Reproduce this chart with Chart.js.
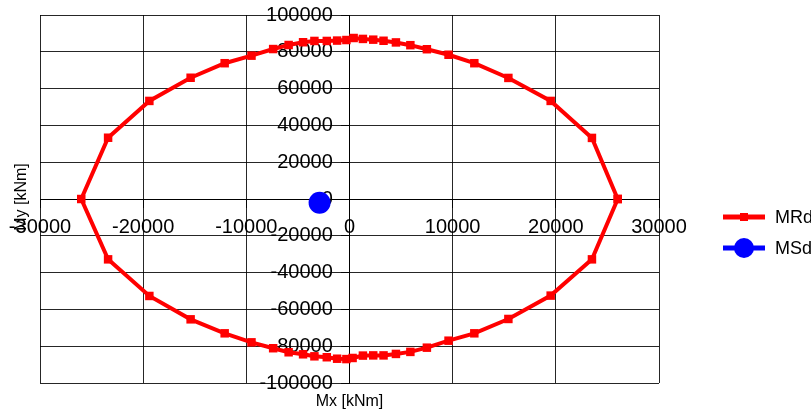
<!DOCTYPE html>
<html>
<head>
<meta charset="utf-8">
<script src="https://cdn.jsdelivr.net/npm/chart.js@4.4.1/dist/chart.umd.min.js"></script>
<style>
  html, body { margin: 0; padding: 0; background: #fff; }
  #wrap { width: 811px; height: 412px; }
</style>
</head>
<body>
<div id="wrap"><canvas id="chart" width="811" height="412"></canvas></div>
<script>
// MRd interaction curve, going round from (+Mx, 0) over the top and back
const mrdX = [26000, 23500, 19500, 15400, 12100, 9600, 7500, 5900, 4500, 3300, 2300, 1300, 400,
  -300, -1200, -2200, -3400, -4500, -5900, -7400, -9500, -12100, -15400, -19400, -23400, -26000,
  -23400, -19400, -15400, -12100, -9500, -7400, -5900, -4500, -3400, -2200, -1200, -300,
  300, 1300, 2300, 3300, 4500, 5900, 7500, 9600, 12100, 15400, 19500, 23500, 26000];
const mrdY = [0, 33200, 53300, 65800, 73800, 78400, 81400, 83600, 85100, 86000, 86600, 87000, 87500,
  86400, 86100, 85900, 85900, 85200, 83700, 81500, 77900, 73800, 65900, 53300, 33300, 0,
  -32800, -52700, -65400, -73000, -77900, -81100, -83300, -84400, -85500, -86000, -86800, -87000,
  -86400, -85100, -85000, -85000, -84200, -83100, -80800, -77000, -73000, -65200, -52500, -32800, 0];

// MSd design point
const msdX = [-2900];
const msdY = [-2000];

const seriesNames = ["MRd", "MSd"];
const xTitle = "Mx [kNm]";
const yTitle = "My [kNm]";

const font = "'Liberation Sans', Arial, sans-serif";

function toPoints(xs, ys) {
  return xs.map((x, i) => ({ x: x, y: ys[i] }));
}

// axis titles and the line+marker legend
const extras = {
  id: "extras",
  afterDraw(chart) {
    const ctx = chart.ctx;
    const area = chart.chartArea;
    ctx.save();
    ctx.fillStyle = "#000";
    ctx.font = "16px " + font;
    ctx.textAlign = "center";
    ctx.textBaseline = "middle";
    ctx.fillText(xTitle, (area.left + area.right) / 2, 402);
    ctx.translate(22, 197);
    ctx.rotate(-Math.PI / 2);
    ctx.fillText(yTitle, 0, 0);
    ctx.restore();

    chart.data.datasets.forEach((ds, i) => {
      const y = 217 + i * 31;
      ctx.save();
      ctx.strokeStyle = ds.borderColor;
      ctx.lineWidth = 5;
      ctx.beginPath();
      ctx.moveTo(723, y);
      ctx.lineTo(765, y);
      ctx.stroke();
      ctx.fillStyle = ds.pointBackgroundColor;
      ctx.beginPath();
      if (ds.pointStyle === "rect") {
        ctx.rect(740, y - 4, 8, 8);
      } else {
        ctx.arc(744, y, 10, 0, Math.PI * 2);
      }
      ctx.fill();
      ctx.fillStyle = "#000";
      ctx.font = "18px " + font;
      ctx.textAlign = "left";
      ctx.textBaseline = "middle";
      ctx.fillText(ds.label, 775, y + 1);
      ctx.restore();
    });
  }
};

const gridStyle = { color: "rgba(0,0,0,0.85)", lineWidth: 1, tickLength: 8, drawTicks: true };

new Chart(document.getElementById("chart"), {
  type: "scatter",
  data: {
    datasets: [
      {
        label: seriesNames[0],
        data: toPoints(mrdX, mrdY),
        showLine: true,
        borderColor: "#ff0000",
        backgroundColor: "#ff0000",
        pointBackgroundColor: "#ff0000",
        pointBorderWidth: 0,
        borderWidth: 4,
        pointStyle: "rect",
        pointRadius: 6,
        tension: 0
      },
      {
        label: seriesNames[1],
        data: toPoints(msdX, msdY),
        borderColor: "#0000ff",
        backgroundColor: "#0000ff",
        pointBackgroundColor: "#0000ff",
        pointBorderWidth: 0,
        pointStyle: "circle",
        pointRadius: 11
      }
    ]
  },
  options: {
    responsive: false,
    animation: false,
    layout: { padding: { left: 40, right: 152, top: 15, bottom: 29 } },
    plugins: {
      legend: { display: false },
      tooltip: { enabled: false }
    },
    scales: {
      x: {
        type: "linear",
        position: { y: 0 },
        min: -30000,
        max: 30000,
        grid: gridStyle,
        border: { color: "#000", width: 1 },
        ticks: {
          stepSize: 10000,
          autoSkip: false,
          maxRotation: 0,
          padding: 8,
          color: "#000",
          font: { family: font, size: 20 },
          callback: (v) => String(v)
        }
      },
      y: {
        type: "linear",
        position: { x: 0 },
        min: -100000,
        max: 100000,
        grid: gridStyle,
        border: { color: "#000", width: 1 },
        ticks: {
          stepSize: 20000,
          autoSkip: false,
          padding: 8,
          color: "#000",
          font: { family: font, size: 20, lineHeight: 0.7 },
          // labels of a centred axis sit flush on it, the spaces keep a gap
          callback: (v) => String(v) + "   "
        }
      }
    }
  },
  plugins: [extras]
});
</script>
</body>
</html>
